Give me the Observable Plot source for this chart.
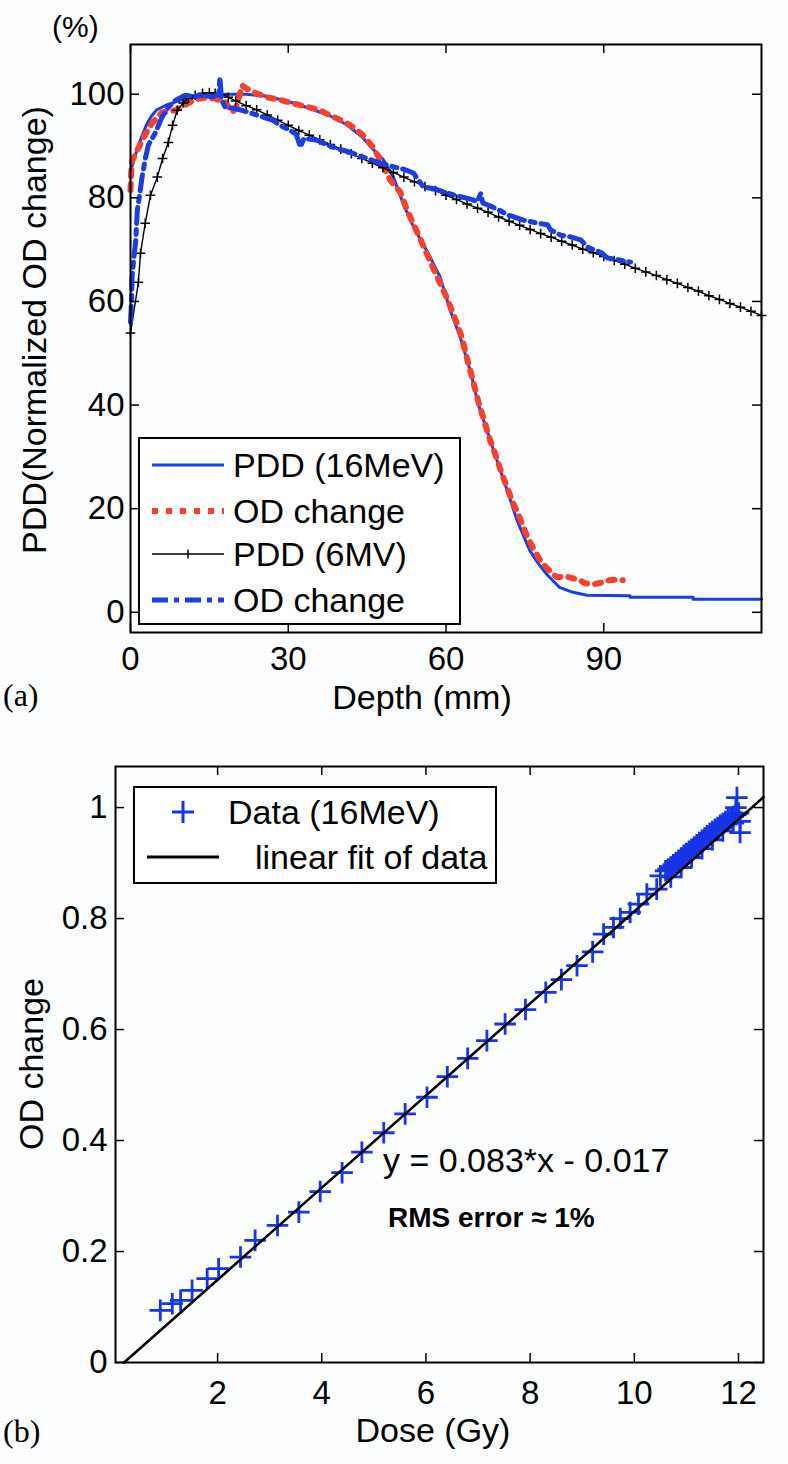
<!DOCTYPE html>
<html>
<head>
<meta charset="utf-8">
<script src="https://cdn.jsdelivr.net/npm/d3@7"></script>
<script src="https://cdn.jsdelivr.net/npm/@observablehq/plot@0.6"></script>
<style>
  html, body { margin: 0; padding: 0; background: #fcfdff; }
  #page { position: relative; width: 788px; height: 1464px; overflow: hidden; font-family: "Liberation Sans", Arial, Helvetica, sans-serif; color: #000; }
  .abs { position: absolute; white-space: nowrap; line-height: 1; }
  .rot { transform: translate(-50%, -50%) rotate(-90deg); }
  .serif { font-family: "Liberation Serif", "Times New Roman", serif; }
</style>
</head>
<body>
<div id="page">
  <div id="chartA" class="abs" style="left:0;top:0"></div>
  <div id="chartB" class="abs" style="left:0;top:720px"></div>
</div>
<script>
// ---------------- Panel (a): depth-dose ----------------
const depthTicks = [0, 30, 60, 90];
const pddTicks = [0, 20, 40, 60, 80, 100];

// PDD (16MeV) – blue solid
const pdd16Depth = [0, 1, 2, 3, 4, 5, 7, 10, 14, 18, 22, 26, 30, 34, 38, 41, 44, 46, 48, 50, 52, 54, 56.3, 58.9, 60.8, 62.7, 64.6, 66.1, 67.8, 69.7, 71.6, 73.5, 75.9, 77.5, 79.2, 81.6, 84, 86.8, 95, 95, 107, 107, 120];
const pdd16Value = [85, 88.5, 91.5, 94, 95.8, 97, 98, 99, 99.8, 100, 100, 99.6, 98.6, 97.3, 95.8, 94.2, 91.8, 89.5, 87.5, 84, 78.5, 74, 69.9, 64.7, 58.3, 53.1, 46.7, 40.3, 35.1, 29.3, 23.6, 17.8, 12, 9.5, 7.3, 4.8, 3.9, 3.3, 3.2, 2.9, 2.9, 2.5, 2.5];

// OD change (16MeV) – red dotted
const od16Depth = [0, 0.1, 0.3, 1.5, 2.5, 4.1, 6, 8.5, 10.5, 12.3, 14, 16, 18, 19.4, 20.3, 21.2, 22.5, 23.4, 26, 28.5, 31, 33.5, 36, 38, 40, 41.8, 44, 46.1, 47.8, 49.4, 51.3, 52.6, 54, 55.4, 57.5, 60.2, 61.6, 63, 64, 65.1, 66.2, 67.4, 68.3, 69.3, 70.4, 71.6, 72.8, 74, 75.2, 76.5, 77.8, 79.2, 81, 83.2, 85.4, 86.5, 87.9, 89, 90, 91.1, 92.5, 93.6];
const od16Value = [81.5, 84.3, 87.2, 89.6, 91.7, 94.4, 96.5, 96.9, 98, 99, 99.3, 99.2, 98.5, 96.5, 98, 101.7, 100.8, 100.4, 99.4, 98.9, 98.2, 97.6, 96.9, 95.9, 95, 94, 92.3, 89.8, 86.8, 83.4, 81.1, 77.6, 74.5, 71.4, 66.6, 60.6, 57, 53.1, 49, 44.8, 40.5, 36.5, 33.5, 30.7, 27.4, 24.1, 21, 18.3, 15.2, 12.5, 10.2, 8.5, 6.8, 6.8, 6.2, 5.6, 5.4, 5.6, 5.8, 6.2, 6.3, 6.2];

// PDD (6MV) – black line with + markers
const pdd6Depth = [0, 1.5, 1.9, 2.8, 3.8, 5.1, 6.1, 7.2, 8, 8.9, 10, 11, 12.3, 13.7, 15, 16.1, 17.4, 18.6, 20, 22, 24, 26, 28, 30, 32, 34, 36, 38, 40, 42, 44, 46, 48, 50, 52, 54, 56, 58, 60, 62, 64, 66, 68, 70, 72, 74, 76, 78, 80, 82, 84, 86, 88, 90, 92, 94, 96, 98, 100, 102, 104, 106, 108, 110, 112, 114, 116, 118, 120];
const pdd6Value = [53.9, 63.7, 69.3, 75.1, 80.5, 84, 87.6, 90.7, 94, 96.9, 98.3, 99.2, 99.8, 100.2, 100.3, 100.2, 99.9, 99.4, 98.7, 97.8, 97, 96, 95, 94, 93, 92.1, 91.2, 90.3, 89.4, 88.5, 87.6, 86.7, 85.8, 84.9, 84, 83.1, 82.2, 81.4, 80.5, 79.7, 78.8, 78, 77.2, 76.3, 75.5, 74.7, 73.9, 73.1, 72.4, 71.6, 70.9, 70.1, 69.4, 68.7, 67.9, 67.2, 66.4, 65.7, 65, 64.2, 63.5, 62.7, 62, 61.1, 60.4, 59.6, 58.9, 58.1, 57.3];

// OD change (6MV) – blue dash-dot
const od6Depth = [0, 0.2, 0.3, 0.6, 1, 1.3, 1.8, 2.2, 2.8, 3.4, 4.7, 6, 7.2, 8.5, 10.4, 12, 13.7, 15.5, 16.8, 17, 17.3, 18, 19.5, 21.2, 22.8, 24.3, 25.5, 27, 28.5, 30, 31.5, 32.3, 33, 35.5, 37, 38.5, 40, 41.8, 43.5, 45, 47.5, 50, 52, 53.8, 55.7, 58, 60, 62.8, 64.5, 66, 66.6, 67, 68.5, 70, 71.7, 73, 74.7, 76.6, 78, 79.3, 79.9, 81.8, 83.5, 85.6, 86.9, 88, 89.4, 90.7, 92, 93.5, 95.1];
const od6Value = [56, 60, 64.7, 68, 71.8, 77.6, 81, 84, 87.5, 90.2, 92.5, 95.6, 97.5, 98.8, 99.8, 99.6, 99.8, 99.5, 100, 103.3, 99, 97.5, 97.3, 96.9, 96.4, 95.9, 95.5, 95, 94, 93.2, 92.3, 89.8, 91.5, 91.1, 90.4, 89.8, 89.3, 88.8, 88.1, 87.6, 86.7, 86, 85.5, 84.8, 82.1, 81.7, 81, 80.2, 79.8, 79.3, 80.8, 79, 78.4, 77.7, 76.7, 76.3, 75.7, 75.3, 75, 74.8, 73.8, 72.8, 72.5, 71.9, 70.5, 70, 69.5, 68.4, 68.2, 67.9, 67.6];

// ---------------- Panel (b): dose response ----------------
const doseTicks = [2, 4, 6, 8, 10, 12];
const odTicks = [0, 0.2, 0.4, 0.6, 0.8, 1];
const dose = [0.90, 1.13, 1.29, 1.51, 1.80, 2.02, 2.44, 2.72, 3.15, 3.56, 3.97, 4.39, 4.77, 5.19, 5.60, 6.02, 6.41, 6.80, 7.17, 7.52, 7.91, 8.3, 8.6, 8.9, 9.2, 9.41, 9.6, 9.73, 9.92, 10.08, 10.24, 10.43, 10.5,
  10.6, 10.65, 10.7, 10.75, 10.8, 10.85, 10.9, 10.95, 11.0, 11.05, 11.1, 11.15, 11.2, 11.25, 11.3, 11.35, 11.4, 11.45, 11.5, 11.55, 11.6, 11.65, 11.7, 11.75, 11.8, 11.85, 11.9, 11.95, 12.0,
  10.7, 10.9, 11.1, 11.3, 11.5, 11.7, 11.9, 12.03, 12.03, 11.97, 11.95];
const odChange = [0.094, 0.106, 0.112, 0.130, 0.151, 0.169, 0.190, 0.220, 0.247, 0.271, 0.308, 0.342, 0.379, 0.414, 0.448, 0.478, 0.515, 0.548, 0.580, 0.610, 0.636, 0.667, 0.690, 0.715, 0.740, 0.772, 0.784, 0.800, 0.811, 0.826, 0.844, 0.853, 0.877,
  0.886, 0.889, 0.893, 0.897, 0.901, 0.905, 0.909, 0.914, 0.917, 0.921, 0.925, 0.929, 0.933, 0.937, 0.941, 0.945, 0.949, 0.953, 0.957, 0.961, 0.964, 0.968, 0.971, 0.975, 0.978, 0.981, 0.984, 0.987, 0.990,
  0.875, 0.892, 0.910, 0.926, 0.942, 0.958, 0.972, 0.955, 0.975, 1.018, 1.0];
const fitSlope = 0.083, fitIntercept = -0.017;
const fitDose = [0.205, 12.48];

// ---------------- styling ----------------
const FONT = '"Liberation Sans", Arial, Helvetica, sans-serif';
const BLUE = "#1c3ee0", RED = "#f5412e", MARK_BLUE = "#1535e6";
const TICK = 9;
const RED_DASH = "6,8", BLUE_DASHDOT = "16,6,5,6";

// Panel (a)
const A = {w: 788, h: 720, top: 44, right: 27, bottom: 88, left: 130};
const aInW = A.w - A.left - A.right, aInH = A.h - A.top - A.bottom;
const chartA = Plot.plot({
  width: A.w, height: A.h,
  marginTop: A.top, marginRight: A.right, marginBottom: A.bottom, marginLeft: A.left,
  style: {fontFamily: FONT, fontSize: "33px", background: "transparent", color: "black", overflow: "visible"},
  x: {domain: [0, 120], label: null},
  y: {domain: [-3.9, 109.6], label: null},
  marks: [
    Plot.line(pdd16Value, {x: pdd16Depth, y: pdd16Value, stroke: BLUE, strokeWidth: 3}),
    Plot.line(od16Value, {x: od16Depth, y: od16Value, stroke: RED, strokeWidth: 6, strokeDasharray: RED_DASH}),
    Plot.line(pdd6Value, {x: pdd6Depth, y: pdd6Value, stroke: "black", strokeWidth: 1.4}),
    Plot.dot(pdd6Value, {x: pdd6Depth, y: pdd6Value, symbol: "plus", r: 3.2, stroke: "black", strokeWidth: 1.5}),
    Plot.line(od6Value, {x: od6Depth, y: od6Value, stroke: BLUE, strokeWidth: 5, strokeDasharray: BLUE_DASHDOT}),
    Plot.ruleX(depthTicks, {x: d => d, insetTop: aInH - TICK, strokeWidth: 1.5}),
    Plot.ruleX(depthTicks, {x: d => d, insetBottom: aInH - TICK, strokeWidth: 1.5}),
    Plot.ruleY(pddTicks, {y: d => d, insetRight: aInW - TICK, strokeWidth: 1.5}),
    Plot.ruleY(pddTicks, {y: d => d, insetLeft: aInW - TICK, strokeWidth: 1.5}),
    Plot.axisX({ticks: depthTicks, tickSize: 0, tickPadding: 14, label: null, tickFormat: d => String(d)}),
    Plot.axisY({ticks: pddTicks, tickSize: 0, tickPadding: 6, label: null, tickFormat: d => String(d)}),
    Plot.frame({stroke: "black", strokeWidth: 2})
  ]
});
document.getElementById("chartA").appendChild(chartA);

// Panel (b)
const B = {w: 788, h: 744, top: 46, right: 25, bottom: 102, left: 115};
const bInW = B.w - B.left - B.right, bInH = B.h - B.top - B.bottom;
const chartB = Plot.plot({
  width: B.w, height: B.h,
  marginTop: B.top, marginRight: B.right, marginBottom: B.bottom, marginLeft: B.left,
  style: {fontFamily: FONT, fontSize: "33px", background: "transparent", color: "black", overflow: "visible"},
  x: {domain: [0.04, 12.48], label: null},
  y: {domain: [0, 1.074], label: null},
  marks: [
    Plot.dot(odChange, {x: dose, y: odChange, symbol: "plus", r: 7, stroke: MARK_BLUE, strokeWidth: 2.8}),
    Plot.line(fitDose, {x: d => d, y: d => fitSlope * d + fitIntercept, stroke: "black", strokeWidth: 2.6}),
    Plot.ruleX(doseTicks, {x: d => d, insetTop: bInH - TICK, strokeWidth: 1.5}),
    Plot.ruleX(doseTicks, {x: d => d, insetBottom: bInH - TICK, strokeWidth: 1.5}),
    Plot.ruleY(odTicks, {y: d => d, insetRight: bInW - TICK, strokeWidth: 1.5}),
    Plot.ruleY(odTicks, {y: d => d, insetLeft: bInW - TICK, strokeWidth: 1.5}),
    Plot.axisX({ticks: doseTicks, tickSize: 0, tickPadding: 18, label: null, tickFormat: d => String(d)}),
    Plot.axisY({ticks: odTicks, tickSize: 0, tickPadding: 8, label: null, tickFormat: d => String(d)}),
    Plot.frame({stroke: "black", strokeWidth: 2})
  ]
});
document.getElementById("chartB").appendChild(chartB);

// ---------------- text & legends (HTML overlay) ----------------
const page = document.getElementById("page");
function addText(txt, x, yc, size, extra = "", cls = "") {
  const d = document.createElement("div");
  d.className = "abs " + cls;
  d.textContent = txt;
  d.style.cssText += `left:${x}px;top:${yc - 0.5 * size}px;font-size:${size}px;${extra}`;
  page.appendChild(d);
  return d;
}
function addRot(txt, cx, cy, size) {
  const d = document.createElement("div");
  d.className = "abs rot";
  d.textContent = txt;
  d.style.cssText += `left:${cx}px;top:${cy}px;font-size:${size}px;`;
  page.appendChild(d);
}
addText("(%)", 52, 27, 30);
addRot("PDD(Normalized OD change)", 34, 330, 34);
addText("Depth (mm)", 0, 697, 34, "width:788px;left:0;text-align:center;padding-left:56px;box-sizing:border-box;");
addText("(a)", 3, 695, 32, "", "serif");
addRot("OD change", 31, 1064, 34);
addText("Dose (Gy)", 0, 1430, 34, "width:788px;left:0;text-align:center;padding-left:78px;box-sizing:border-box;");
addText("(b)", 3, 1431, 32, "", "serif");
addText("y = 0.083*x - 0.017", 383, 1160, 34);
addText("RMS error \u2248 1%", 388, 1218, 28, "font-weight:bold;");

const NS = "http://www.w3.org/2000/svg";
function svgBox(x, y, w, h) {
  const s = document.createElementNS(NS, "svg");
  s.setAttribute("width", w); s.setAttribute("height", h);
  s.style.cssText = `position:absolute;left:${x}px;top:${y}px;overflow:visible;`;
  s.setAttribute("font-family", FONT);
  const r = document.createElementNS(NS, "rect");
  r.setAttribute("x", 1); r.setAttribute("y", 1); r.setAttribute("width", w - 2); r.setAttribute("height", h - 2);
  r.setAttribute("fill", "white"); r.setAttribute("stroke", "black"); r.setAttribute("stroke-width", 2);
  s.appendChild(r);
  page.appendChild(s);
  return s;
}
function el(parent, name, attrs, text) {
  const e = document.createElementNS(NS, name);
  for (const k in attrs) e.setAttribute(k, attrs[k]);
  if (text) e.textContent = text;
  parent.appendChild(e);
  return e;
}
// Legend (a)
const legA = svgBox(138, 437, 323, 188);
const legARows = [
  {label: "PDD (16MeV)", stroke: BLUE, width: 3, dash: null, marker: false},
  {label: "OD change", stroke: RED, width: 6, dash: RED_DASH, marker: false},
  {label: "PDD (6MV)", stroke: "black", width: 1.4, dash: null, marker: true},
  {label: "OD change", stroke: BLUE, width: 5, dash: BLUE_DASHDOT, marker: false}
];
const legAY = [28, 74, 117, 163];
legARows.forEach((row, i) => {
  const y = legAY[i];
  const ln = el(legA, "line", {x1: 14, x2: 86, y1: y, y2: y, stroke: row.stroke, "stroke-width": row.width});
  if (row.dash) ln.setAttribute("stroke-dasharray", row.dash);
  if (row.marker) {
    el(legA, "line", {x1: 50, x2: 50, y1: y - 4.5, y2: y + 4.5, stroke: "black", "stroke-width": 1.5});
  }
  el(legA, "text", {x: 95, y: y + 12, "font-size": 34}, row.label);
});
// Legend (b)
const legB = svgBox(133, 786, 364, 98);
el(legB, "path", {d: "M39,26h22M50,15v22", stroke: MARK_BLUE, "stroke-width": 3, fill: "none"});
el(legB, "text", {x: 95, y: 38, "font-size": 34}, "Data (16MeV)");
el(legB, "line", {x1: 14, x2: 86, y1: 71, y2: 71, stroke: "black", "stroke-width": 3});
el(legB, "text", {x: 122, y: 83, "font-size": 34}, "linear fit of data");
</script>
</body>
</html>
